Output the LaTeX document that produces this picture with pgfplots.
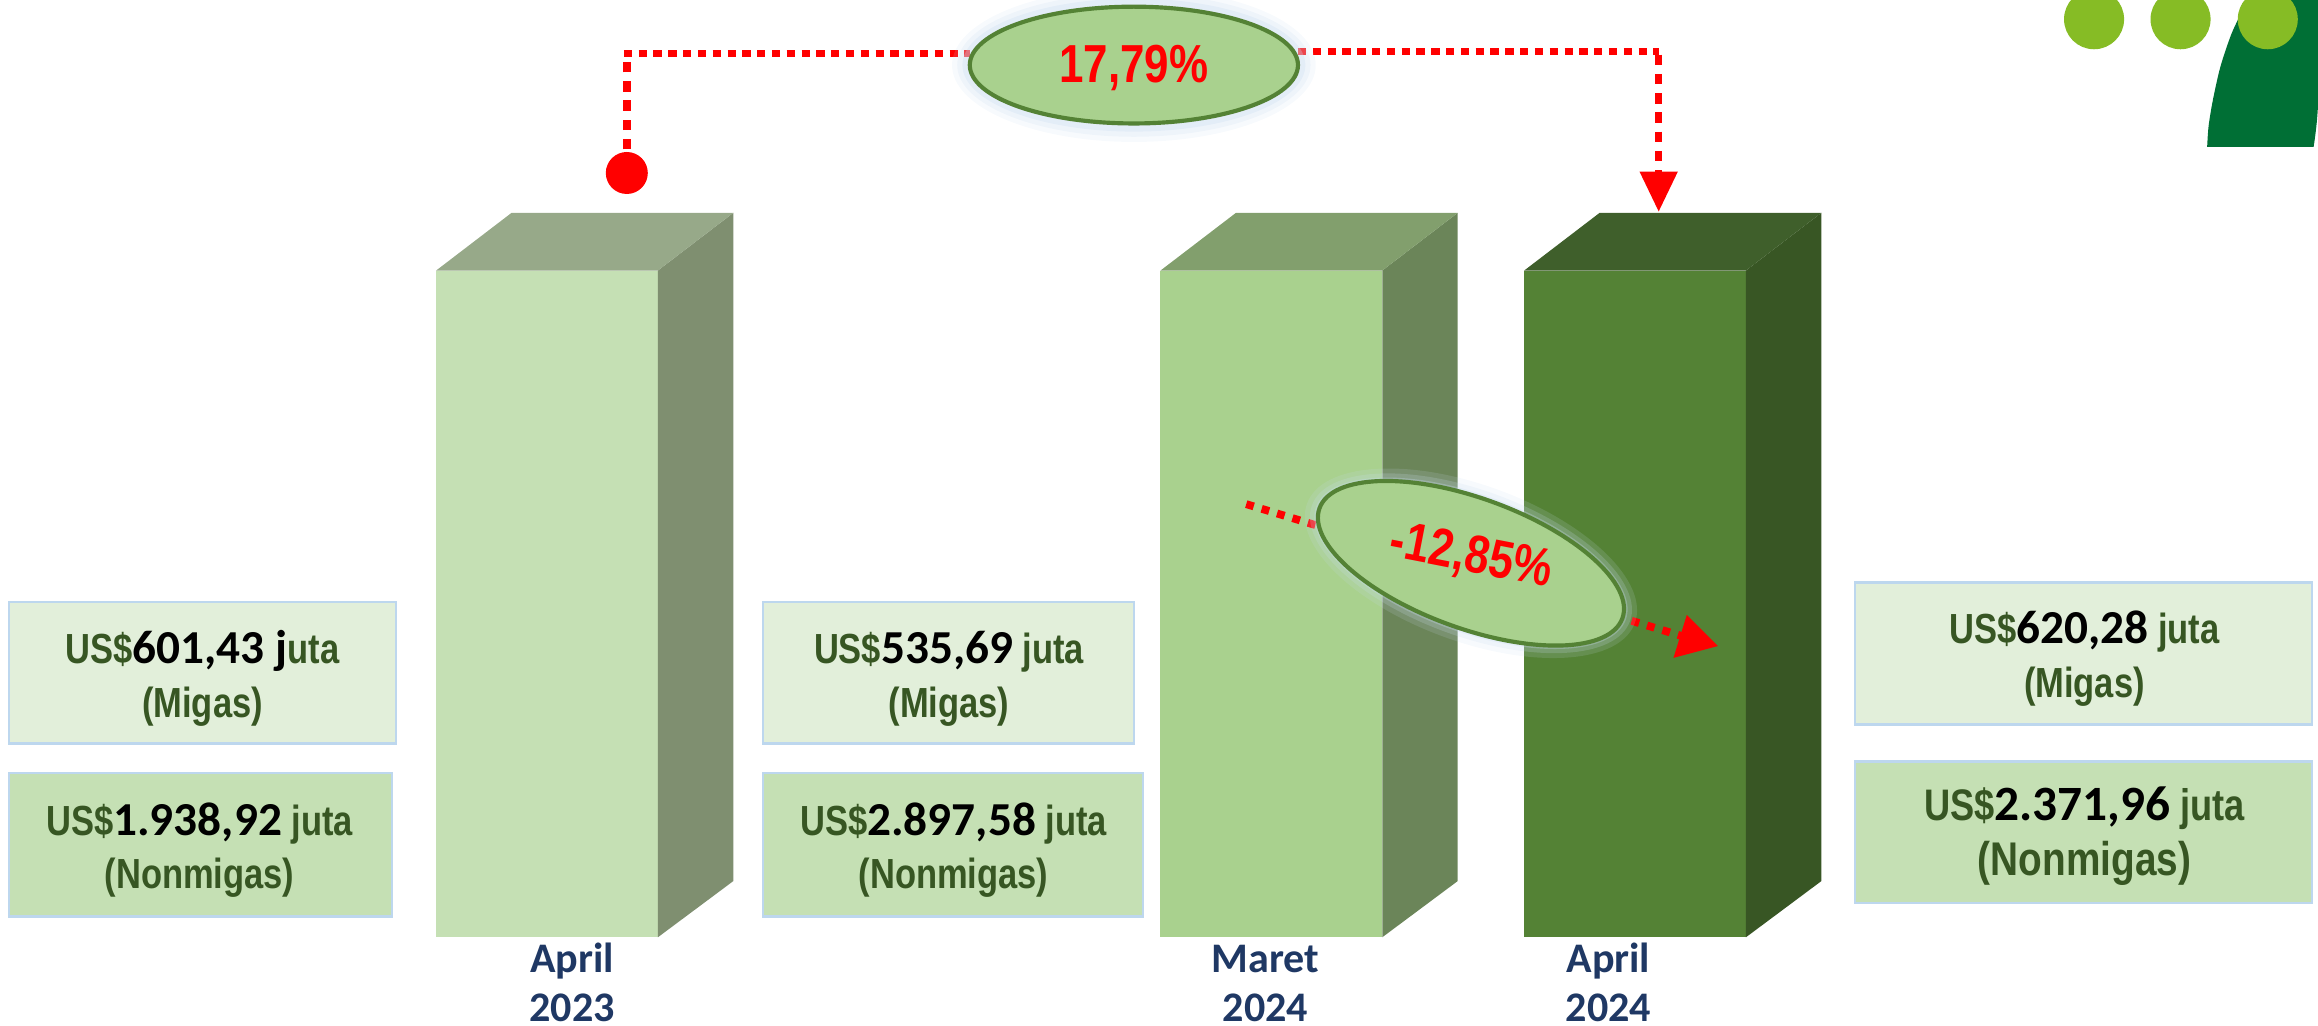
\documentclass[border=0pt]{standalone}
\usepackage{pgfplots}
\pgfplotsset{compat=1.18}
\usepackage{fontspec}
\usetikzlibrary{shapes.geometric}
\setmainfont{Liberation Sans}
\newfontfamily\narrowf{Liberation Sans}[FakeStretch=0.82]
\newfontfamily\calf{Carlito}

\definecolor{bar1front}{HTML}{C5E0B4}
\definecolor{bar1side}{HTML}{7F8F70}
\definecolor{bar1top}{HTML}{97A989}
\definecolor{bar2front}{HTML}{A9D18E}
\definecolor{bar2side}{HTML}{6B8559}
\definecolor{bar2top}{HTML}{829F6D}
\definecolor{bar3front}{HTML}{548235}
\definecolor{bar3side}{HTML}{385624}
\definecolor{bar3top}{HTML}{3F5F2B}
\definecolor{boxlight}{HTML}{E2EFDA}
\definecolor{boxmid}{HTML}{C5E0B4}
\definecolor{boxedge}{HTML}{BDD7EE}
\definecolor{txtgreen}{HTML}{375623}
\definecolor{navy}{HTML}{1F3864}
\definecolor{ellfill}{HTML}{A9D18E}
\definecolor{elledge}{HTML}{548235}
\definecolor{glow}{HTML}{C9DCF0}
\definecolor{logolight}{HTML}{86BC25}
\definecolor{logodark}{HTML}{006F35}

\newcommand\gr[2][8.1]{{\color{txtgreen}\narrowf\bfseries\fontsize{#1}{#1}\selectfont #2}}
\newcommand\nm[2][9.1]{{\color{black}\calf\bfseries\fontsize{#1}{#1}\selectfont #2}}
\newcommand\lbl[1]{{\color{navy}\calf\bfseries\fontsize{8.1}{8.1}\selectfont #1}}
\newcommand\pct[1]{{\color{red}\narrowf\bfseries\fontsize{10.3}{10.3}\selectfont #1}}

\begin{document}
\begin{tikzpicture}
\begin{axis}[width=15.68cm, height=6.94cm, scale only axis,
  xmin=0, xmax=1568, ymin=0, ymax=694, y dir=reverse,
  hide axis, clip=true, clip marker paths=true]

% ---- bars (equal heights) ----
% April 2023
\addplot[draw=none, fill=bar1front] coordinates {(295,183)(445,183)(445,634)(295,634)} --cycle;
\addplot[draw=none, fill=bar1side] coordinates {(445,183)(496,144)(496,596)(445,634)} --cycle;
\addplot[draw=none, fill=bar1top] coordinates {(295,183)(346,144)(496,144)(445,183)} --cycle;
% Maret 2024
\addplot[draw=none, fill=bar2front] coordinates {(785,183)(935,183)(935,634)(785,634)} --cycle;
\addplot[draw=none, fill=bar2side] coordinates {(935,183)(986,144)(986,596)(935,634)} --cycle;
\addplot[draw=none, fill=bar2top] coordinates {(785,183)(836,144)(986,144)(935,183)} --cycle;
% April 2024
\addplot[draw=none, fill=bar3front] coordinates {(1031,183)(1181,183)(1181,634)(1031,634)} --cycle;
\addplot[draw=none, fill=bar3side] coordinates {(1181,183)(1232,144)(1232,596)(1181,634)} --cycle;
\addplot[draw=none, fill=bar3top] coordinates {(1031,183)(1082,144)(1232,144)(1181,183)} --cycle;

% ---- value boxes ----
\addplot[fill=boxlight, draw=boxedge, line width=0.45pt] coordinates {(6,407)(268,407)(268,503)(6,503)} --cycle;
\addplot[fill=boxmid, draw=boxedge, line width=0.45pt] coordinates {(6,523)(265,523)(265,620)(6,620)} --cycle;
\addplot[fill=boxlight, draw=boxedge, line width=0.45pt] coordinates {(516,407)(767,407)(767,503)(516,503)} --cycle;
\addplot[fill=boxmid, draw=boxedge, line width=0.45pt] coordinates {(516,523)(773,523)(773,620)(516,620)} --cycle;
\addplot[fill=boxlight, draw=boxedge, line width=0.45pt] coordinates {(1255,394)(1564,394)(1564,490)(1255,490)} --cycle;
\addplot[fill=boxmid, draw=boxedge, line width=0.45pt] coordinates {(1255,515)(1564,515)(1564,611)(1255,611)} --cycle;

% ---- red dotted connectors ----
\addplot[red, line width=1.42pt, dash pattern=on 2pt off 1.7pt] coordinates {(424,101)(424,38)};
\addplot[red, line width=1.42pt, dash pattern=on 1.6pt off 1.25pt] coordinates {(422,36)(656,36)};
\addplot[red, line width=1.42pt, dash pattern=on 1.6pt off 1.25pt] coordinates {(878,35)(1122,35)};
\addplot[red, line width=1.42pt, dash pattern=on 2pt off 1.7pt] coordinates {(1122,37)(1122,117)};
\addplot[draw=none, fill=red] coordinates {(1109,116)(1135,116)(1122,143)} --cycle;
\addplot[only marks, mark=*, mark size=3.84pt, red, mark options={draw=red, fill=red}] coordinates {(424,117)};

\addplot[red, line width=1.5pt, dash pattern=on 1.5pt off 1.6pt] coordinates {(843,341)(1137,430)};
\addplot[draw=none, fill=red] coordinates {(1141,416)(1162,437)(1132,445)} --cycle;

% ---- ellipses (soft glow + fill) ----
\node[ellipse, fill=glow, opacity=0.15, minimum width=24.6mm, minimum height=10.4mm, inner sep=0] at (axis cs:767,44) {};
\node[ellipse, fill=glow, opacity=0.2, minimum width=23.9mm, minimum height=9.7mm, inner sep=0] at (axis cs:767,44) {};
\node[ellipse, fill=glow, opacity=0.3, minimum width=23.2mm, minimum height=9.0mm, inner sep=0] at (axis cs:767,44) {};
\node[ellipse, fill=ellfill, draw=elledge, line width=0.8pt, minimum width=22.2mm, minimum height=7.9mm, inner sep=0] at (axis cs:767,44) {};
\node[anchor=base, inner sep=0] at (axis cs:767,56) {\pct{17,79\%}};

\node[ellipse, rotate=-20, fill=glow, opacity=0.15, minimum width=23.6mm, minimum height=10.6mm, inner sep=0] at (axis cs:995,381) {};
\node[ellipse, rotate=-20, fill=glow, opacity=0.2, minimum width=22.9mm, minimum height=9.9mm, inner sep=0] at (axis cs:995,381) {};
\node[ellipse, rotate=-20, fill=glow, opacity=0.3, minimum width=22.3mm, minimum height=9.3mm, inner sep=0] at (axis cs:995,381) {};
\node[ellipse, rotate=-20, fill=ellfill, draw=elledge, line width=0.8pt, minimum width=21.8mm, minimum height=8.8mm, inner sep=0] at (axis cs:995,381) {};
\node[rotate=-11, inner sep=0] at (axis cs:995,377) {\pct{-12,85\%}};

% ---- box texts ----
\node[anchor=base, inner sep=0] at (axis cs:137,449) {\gr{US\$}\nm{601,43 j}\gr{uta}};
\node[anchor=base, inner sep=0] at (axis cs:137,485) {\gr{(Migas)}};
\node[anchor=base, inner sep=0] at (axis cs:135,565) {\gr{US\$}\nm{1.938,92}\gr{ juta}};
\node[anchor=base, inner sep=0] at (axis cs:135,601) {\gr{(Nonmigas)}};

\node[anchor=base, inner sep=0] at (axis cs:642,449) {\gr{US\$}\nm{535,69}\gr{ juta}};
\node[anchor=base, inner sep=0] at (axis cs:642,485) {\gr{(Migas)}};
\node[anchor=base, inner sep=0] at (axis cs:645,565) {\gr{US\$}\nm{2.897,58}\gr{ juta}};
\node[anchor=base, inner sep=0] at (axis cs:645,601) {\gr{(Nonmigas)}};

\node[anchor=base, inner sep=0] at (axis cs:1410,435) {\gr{US\$}\nm{620,28}\gr{ juta}};
\node[anchor=base, inner sep=0] at (axis cs:1410,472) {\gr{(Migas)}};
\node[anchor=base, inner sep=0] at (axis cs:1410,555) {\gr[8.5]{US\$}\nm[9.5]{2.371,96}\gr[8.5]{ juta}};
\node[anchor=base, inner sep=0] at (axis cs:1410,592) {\gr[9.1]{(Nonmigas)}};

% ---- category labels ----
\node[anchor=base, inner sep=0] at (axis cs:387,658) {\lbl{April}};
\node[anchor=base, inner sep=0] at (axis cs:387,691) {\lbl{2023}};
\node[anchor=base, inner sep=0] at (axis cs:856,658) {\lbl{Maret}};
\node[anchor=base, inner sep=0] at (axis cs:856,691) {\lbl{2024}};
\node[anchor=base, inner sep=0] at (axis cs:1088,658) {\lbl{April}};
\node[anchor=base, inner sep=0] at (axis cs:1088,691) {\lbl{2024}};

% ---- logo ----
\addplot[draw=none, fill=logodark, smooth] coordinates {(1493,99.4)(1494,85)(1497,67)(1502,45)(1509,24)(1515,11)(1521,0)(1568,0)(1568,70)(1565,99.4)} --cycle;
\addplot[only marks, mark=*, mark size=5.58pt, mark options={draw=logolight, fill=logolight}] coordinates {(1416.5,13)(1475,13)(1534,13)};

\end{axis}
\pgfresetboundingbox
\useasboundingbox (current axis.south west) rectangle (current axis.north east);
\end{tikzpicture}
\end{document}
